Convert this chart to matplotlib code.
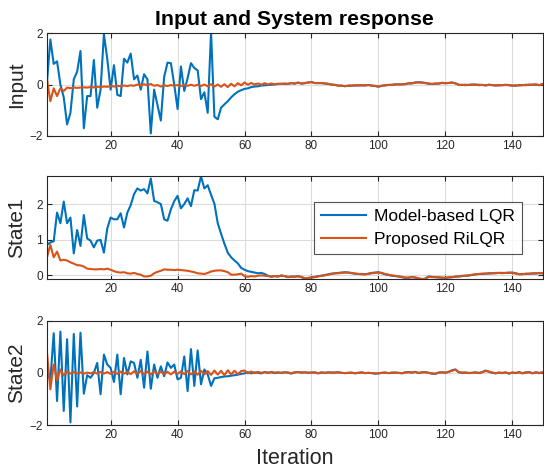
import matplotlib
matplotlib.use("Agg")
import matplotlib.pyplot as plt
import numpy as np

plt.rcParams["font.family"] = ["Liberation Sans", "DejaVu Sans"]

# iteration axis
iterations = np.arange(1, 151)

# --- Input ---
input_lqr = [
    0.10, 1.75, 0.80, 0.90, 0.00, -0.50, -1.55, -1.10, 0.20, 0.50,
    1.30, -1.70, -0.45, -0.45, 0.95, -0.90, -0.20, 1.95, 1.00, -0.20,
    0.75, -0.40, -0.45, 1.00, 0.85, 1.20, 0.20, 0.35, -0.20, 0.40,
    0.20, -1.90, -0.20, -0.80, -1.40, 0.30, 0.85, 0.83, 0.00, -0.95,
    0.70, -0.25, 0.25, 0.83, 0.64, 0.55, -0.57, -0.30, -1.10, 2.05,
    -1.25, -1.35, -0.90, -0.77, -0.65, -0.50, -0.38, -0.28, -0.22, -0.17,
    -0.15, -0.10, -0.08, -0.07, -0.04, -0.03, -0.02, -0.01, 0.00, 0.02,
    0.03, 0.02, 0.03, 0.05, 0.04, 0.07, 0.04, 0.05, 0.08, 0.09,
    0.06, 0.05, 0.06, 0.04, 0.02, 0.00, -0.02, -0.04, -0.05, -0.06,
    -0.05, -0.04, -0.04, -0.03, -0.04, -0.03, -0.02, -0.04, -0.06, -0.08,
    -0.05, -0.03, -0.02, -0.01, 0.00, 0.01, 0.00, 0.02, 0.04, 0.05,
    0.08, 0.09, 0.08, 0.06, 0.03, 0.02, 0.03, 0.04, 0.06, 0.05,
    0.06, 0.08, 0.04, -0.01, -0.02, -0.01, -0.02, 0.00, -0.01, -0.01,
    -0.02, -0.03, -0.01, -0.02, -0.04, -0.02, -0.03, -0.01, -0.03, -0.04,
    -0.05, -0.02, -0.03, -0.01, -0.02, 0.00, -0.01, -0.02, 0.01, -0.01,
]
input_rilqr = [
    0.20, -0.65, -0.15, -0.45, -0.15, -0.25, -0.12, -0.14, -0.12, -0.13,
    -0.12, -0.11, -0.12, -0.10, -0.11, -0.09, -0.10, -0.08, -0.09, -0.06,
    -0.08, -0.05, -0.07, -0.04, -0.06, -0.03, -0.05, 0.00, -0.04, 0.01,
    -0.03, 0.02, -0.05, -0.02, -0.08, -0.03, -0.06, -0.02, -0.05, -0.02,
    -0.06, -0.02, -0.05, -0.01, -0.05, -0.01, -0.06, 0.00, -0.07, 0.01,
    -0.08, 0.00, -0.09, 0.01, -0.10, 0.03, -0.07, 0.05, -0.03, 0.08,
    -0.01, 0.06, 0.00, 0.04, -0.01, 0.05, 0.00, 0.04, 0.01, 0.03,
    0.02, 0.04, 0.02, 0.06, 0.03, 0.08, 0.03, 0.06, 0.07, 0.10,
    0.05, 0.06, 0.05, 0.04, 0.03, -0.01, -0.01, -0.05, -0.04, -0.07,
    -0.04, -0.05, -0.03, -0.04, -0.02, -0.04, -0.02, -0.05, -0.05, -0.09,
    -0.04, -0.04, -0.01, -0.02, 0.01, 0.00, 0.01, 0.01, 0.05, 0.04,
    0.07, 0.08, 0.07, 0.05, 0.04, 0.02, 0.04, 0.03, 0.07, 0.05,
    0.06, 0.07, 0.05, -0.02, -0.01, -0.03, -0.01, -0.01, 0.00, -0.03,
    -0.01, -0.04, -0.01, -0.03, -0.03, -0.04, -0.02, -0.02, -0.02, -0.05,
    -0.03, -0.04, -0.02, -0.03, 0.00, -0.02, 0.01, -0.03, 0.02, -0.02,
]

# --- State1 ---
state1_lqr = [
    0.85, 0.92, 0.95, 1.76, 1.46, 2.07, 1.46, 1.62, 0.61, 1.27,
    0.82, 1.69, 1.03, 0.97, 0.78, 0.97, 0.99, 0.63, 1.31, 1.62,
    1.57, 1.57, 1.74, 1.34, 1.76, 1.97, 2.28, 2.44, 2.38, 2.42,
    2.30, 2.72, 2.09, 2.05, 2.00, 1.57, 1.53, 1.85, 2.08, 2.23,
    1.88, 2.00, 2.16, 1.94, 2.39, 2.38, 2.78, 2.44, 2.53, 2.26,
    2.01, 1.46, 1.16, 0.88, 0.63, 0.50, 0.41, 0.33, 0.20, 0.15,
    0.11, 0.09, 0.07, 0.05, 0.06, 0.03, -0.02, -0.05, -0.03, -0.04,
    -0.01, -0.03, -0.06, -0.04, -0.05, -0.03, -0.06, -0.10, -0.08, -0.07,
    -0.05, -0.03, -0.02, 0.00, 0.02, 0.04, 0.05, 0.06, 0.07, 0.08,
    0.07, 0.05, 0.04, 0.03, 0.03, 0.02, 0.04, 0.06, 0.07, 0.08,
    0.05, 0.02, 0.00, -0.02, -0.03, -0.04, -0.06, -0.08, -0.07, -0.06,
    -0.07, -0.10, -0.12, -0.10, -0.04, -0.05, -0.06, -0.07, -0.07, -0.08,
    -0.07, -0.06, -0.05, -0.04, -0.03, -0.02, -0.01, 0.00, 0.02, 0.03,
    0.03, 0.04, 0.05, 0.05, 0.05, 0.06, 0.06, 0.06, 0.06, 0.07,
    0.05, 0.02, 0.03, 0.03, 0.04, 0.04, 0.05, 0.05, 0.05, 0.06,
]
state1_rilqr = [
    0.50, 0.85, 0.50, 0.66, 0.41, 0.43, 0.41, 0.36, 0.32, 0.28,
    0.27, 0.24, 0.18, 0.17, 0.16, 0.16, 0.17, 0.16, 0.18, 0.15,
    0.11, 0.08, 0.07, 0.08, 0.05, 0.04, 0.06, 0.03, 0.01, -0.04,
    -0.04, -0.02, 0.05, 0.09, 0.12, 0.16, 0.15, 0.15, 0.14, 0.15,
    0.14, 0.13, 0.12, 0.10, 0.08, 0.05, 0.04, 0.03, 0.06, 0.10,
    0.12, 0.13, 0.13, 0.11, 0.08, 0.01, 0.01, 0.02, 0.04, -0.03,
    -0.05, -0.03, -0.04, -0.02, -0.01, -0.02, -0.03, -0.04, -0.03, -0.04,
    -0.02, -0.03, -0.05, -0.05, -0.04, -0.04, -0.05, -0.09, -0.09, -0.07,
    -0.06, -0.04, -0.02, -0.01, 0.01, 0.03, 0.05, 0.05, 0.06, 0.07,
    0.07, 0.06, 0.04, 0.03, 0.02, 0.02, 0.03, 0.05, 0.06, 0.07,
    0.06, 0.03, 0.01, -0.01, -0.02, -0.04, -0.05, -0.07, -0.08, -0.06,
    -0.07, -0.09, -0.11, -0.11, -0.05, -0.06, -0.06, -0.06, -0.08, -0.08,
    -0.06, -0.06, -0.04, -0.04, -0.02, -0.02, -0.01, 0.01, 0.02, 0.03,
    0.04, 0.04, 0.04, 0.05, 0.06, 0.06, 0.05, 0.06, 0.07, 0.06,
    0.04, 0.03, 0.02, 0.04, 0.03, 0.05, 0.04, 0.06, 0.05, 0.05,
]

# --- State2 ---
state2_lqr = [
    0.05, -0.30, 1.52, -1.08, 1.58, -1.46, 1.29, -1.90, 1.49, -1.29,
    1.54, -0.80, -0.09, -0.19, 0.00, 0.38, -0.82, 0.70, 0.32, 0.19,
    -0.35, 0.70, -0.82, 0.57, -0.06, 0.44, 0.38, -0.19, 0.50, -0.57,
    0.82, -0.61, 0.32, -0.19, 0.25, -0.13, 0.40, 0.19, 0.32, -0.25,
    -0.19, 0.63, -0.70, 0.91, -0.50, 0.86, -0.44, 0.13, -0.06, -0.50,
    -0.21, -0.19, -0.16, -0.14, -0.13, -0.11, -0.09, -0.07, -0.04, -0.02,
    0.03, -0.02, 0.02, 0.00, -0.02, 0.03, 0.01, 0.02, -0.01, 0.01,
    0.00, 0.02, 0.01, -0.03, 0.02, 0.03, 0.01, 0.02, 0.00, 0.01,
    0.02, -0.02, 0.01, 0.00, 0.02, 0.01, 0.01, 0.02, 0.00, -0.01,
    0.00, 0.01, -0.02, 0.00, 0.02, -0.01, 0.00, -0.01, -0.03, -0.02,
    0.00, 0.01, -0.01, 0.00, 0.01, 0.00, -0.02, 0.02, 0.03, 0.01,
    0.04, -0.01, 0.02, 0.03, 0.00, -0.03, -0.04, 0.01, 0.02, 0.00,
    0.04, 0.10, 0.13, 0.02, 0.00, 0.01, -0.01, 0.00, 0.02, -0.01,
    0.03, 0.09, 0.04, 0.00, -0.02, 0.01, -0.01, 0.02, -0.03, 0.01,
    -0.01, 0.03, -0.02, 0.01, 0.03, -0.02, 0.02, -0.01, 0.02, 0.03,
]
state2_rilqr = [
    0.76, -0.63, 0.32, -0.29, 0.13, -0.10, 0.06, -0.03, 0.03, -0.02,
    0.02, -0.03, 0.01, -0.02, 0.03, -0.03, 0.04, -0.03, 0.03, -0.04,
    0.04, -0.04, 0.05, -0.03, 0.04, -0.05, 0.06, -0.04, 0.07, -0.05,
    0.05, -0.06, 0.06, -0.04, 0.05, -0.05, 0.04, -0.06, 0.05, -0.04,
    0.06, -0.05, 0.07, -0.06, 0.05, -0.07, 0.08, -0.06, 0.07, -0.08,
    0.09, -0.07, 0.08, -0.09, 0.10, -0.06, 0.08, -0.05, 0.07, 0.09,
    -0.02, 0.05, -0.01, 0.04, 0.00, 0.03, -0.01, 0.04, 0.01, 0.02,
    0.00, 0.02, 0.01, -0.01, 0.02, 0.03, 0.01, 0.02, 0.01, 0.01,
    0.01, -0.01, 0.02, 0.00, 0.01, 0.01, 0.01, 0.02, 0.00, -0.01,
    0.00, 0.00, -0.01, 0.00, 0.01, -0.01, 0.00, -0.01, -0.02, -0.02,
    0.00, 0.01, -0.01, 0.01, 0.01, 0.00, -0.01, 0.01, 0.02, 0.01,
    0.03, 0.00, 0.02, 0.02, 0.00, -0.02, -0.03, 0.01, 0.02, 0.01,
    0.04, 0.08, 0.12, 0.03, 0.01, 0.01, 0.00, 0.00, 0.01, 0.00,
    0.02, 0.07, 0.05, 0.01, -0.01, 0.01, 0.00, 0.01, -0.02, 0.01,
    0.00, 0.02, -0.01, 0.02, 0.02, -0.01, 0.02, 0.00, 0.01, 0.02,
]

series_names = ["Model-based LQR", "Proposed RiLQR"]
panel_labels = ["Input", "State1", "State2"]
panel_ylims = [(-2, 2), (-0.12, 2.79), (-2, 2)]
panel_yticks = [[-2, 0, 2], [0, 1, 2], [-2, 0, 2]]
xticks = [20, 40, 60, 80, 100, 120, 140]

blue = "#0072BD"
orange = "#D95319"
axis_col = "#262626"

W, H = 544, 472
fig = plt.figure(figsize=(W / 100, H / 100), dpi=100)

# axes boxes in pixels (left, top, right, bottom)
boxes = [(47, 33, 542.5, 136), (47, 176, 542.5, 279.3), (47, 320.7, 542.5, 425)]
panels = [
    (input_lqr, input_rilqr),
    (state1_lqr, state1_rilqr),
    (state2_lqr, state2_rilqr),
]

axes = []
for k, ((l, t, r, b), (s_lqr, s_ri)) in enumerate(zip(boxes, panels)):
    ax = fig.add_axes([l / W, 1 - b / H, (r - l) / W, (b - t) / H])
    ax.plot(iterations, s_lqr, color=blue, lw=1.5, label=series_names[0])
    ax.plot(iterations, s_ri, color=orange, lw=1.5, label=series_names[1])
    ax.set_xlim(1, 149)
    ax.set_ylim(*panel_ylims[k])
    ax.set_yticks(panel_yticks[k])
    ax.set_xticks(xticks)
    ax.grid(True, color="#dcdcdc", lw=0.8)
    ax.set_axisbelow(True)
    ax.tick_params(direction="in", length=3.5, width=0.8, top=True, right=True,
                   labelsize=8.5, colors=axis_col, pad=3)
    for sp in ax.spines.values():
        sp.set_color(axis_col)
        sp.set_linewidth(0.8)
    ax.set_ylabel(panel_labels[k], fontsize=15, color=axis_col)
    ax.yaxis.set_label_coords(-0.042, 0.5)
    axes.append(ax)

axes[0].set_title("Input and System response", fontsize=15.3, fontweight="bold", pad=6)
axes[2].set_xlabel("Iteration", fontsize=15.5, color=axis_col, labelpad=5)

leg = axes[1].legend(loc="upper right", bbox_to_anchor=(0.959, 0.748), fontsize=12.5,
                     frameon=True, fancybox=False, handlelength=2.6, borderpad=0.4,
                     labelspacing=0.45, handletextpad=0.5, borderaxespad=0)
leg.get_frame().set_edgecolor(axis_col)
leg.get_frame().set_linewidth(0.8)

fig.savefig("out.png", dpi=100)
